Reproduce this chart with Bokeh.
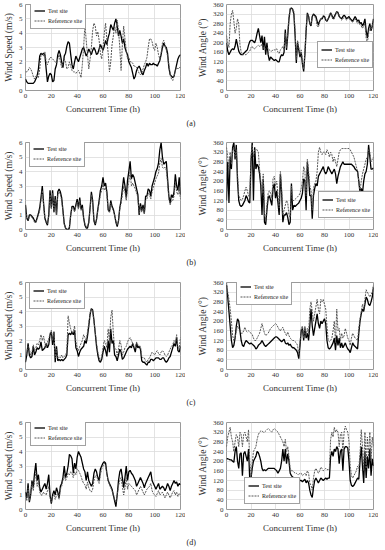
from bokeh.plotting import figure
from bokeh.layouts import gridplot
from bokeh.models import Range1d, FixedTicker, Legend, LegendItem, Title
from bokeh.embed import file_html
from bokeh.resources import INLINE

hours = list(range(121))
speed_ticks = [0, 1, 2, 3, 4, 5, 6]
angle_ticks = [0, 40, 80, 120, 160, 200, 240, 280, 320, 360]
time_ticks = [0, 20, 40, 60, 80, 100, 120]
captions = ["(a)", "(b)", "(c)", "(d)"]
series_names = ["Test site", "Reference site"]

# ---- (a) ----
a_speed_test = [0.8, 0.6, 0.5, 0.5, 0.5, 0.5, 0.5, 0.6, 0.8, 1.0,
                1.5, 2.4, 2.6, 2.5, 2.6, 2.5, 1.5, 0.6, 1.0, 1.2,
                1.1, 0.6, 0.7, 1.5, 1.8, 2.5, 2.8, 2.5, 2.0, 1.6,
                2.4, 2.6, 3.1, 3.4, 3.3, 2.5, 1.8, 1.5, 2.0, 2.4,
                2.2, 2.0, 2.3, 2.6, 2.9, 3.0, 2.7, 2.4, 2.6, 2.9,
                2.7, 2.5, 2.8, 3.0, 2.8, 2.5, 2.6, 2.9, 3.2, 3.0,
                2.8, 3.1, 3.5, 3.2, 3.7, 4.0, 4.6, 4.4, 4.2, 4.7,
                5.0, 4.5, 3.8, 4.2, 3.8, 3.3, 3.6, 3.0, 2.7, 2.5,
                2.0, 1.8, 1.6, 1.2, 0.8, 1.0, 1.4, 1.6, 1.7, 1.5,
                1.2, 1.1, 1.4, 1.6, 1.9, 1.7, 1.9, 1.8, 1.8, 1.9,
                1.8, 1.8, 1.7, 1.9, 2.1, 2.5, 3.0, 3.3, 3.1, 3.0,
                2.6, 1.6, 1.1, 1.0, 0.9, 1.0, 1.4, 1.8, 2.2, 2.4,
                2.5]
a_speed_ref = [1.3, 1.3, 1.4, 1.6, 1.5, 1.3, 1.0, 0.8, 1.0, 1.1,
               0.9, 1.5, 2.5, 2.6, 2.4, 2.7, 2.0, 1.8, 2.1, 2.3,
               2.3, 2.2, 2.1, 2.0, 1.9, 2.2, 2.5, 2.0, 1.6, 1.9,
               2.2, 2.0, 1.5, 1.6, 2.0, 1.7, 1.4, 1.3, 1.3, 1.2,
               1.3, 1.4, 1.2, 0.9, 1.8, 3.0, 4.6, 3.5, 2.5, 1.5,
               2.2, 3.0, 4.2, 4.7, 4.5, 3.8, 4.1, 3.5, 2.6, 2.2,
               3.0, 4.0, 4.7, 3.5, 2.6, 1.3, 2.0, 3.2, 3.8, 4.5,
               4.0, 4.9, 4.2, 3.0, 1.4, 3.2, 4.5, 3.6, 2.8, 2.2,
               2.3, 2.0, 2.0, 1.9, 1.7, 1.7, 1.6, 1.4, 1.2, 1.1,
               1.2, 1.5, 1.8, 2.0, 2.3, 3.0, 3.6, 3.6, 3.4, 3.0,
               2.8, 3.3, 3.0, 2.5, 2.2, 2.6, 3.3, 3.5, 3.2, 2.8,
               2.4, 1.8, 1.2, 0.8, 0.7, 1.0, 1.4, 1.6, 1.5, 1.6,
               1.6]
a_angle_test = [200, 165, 150, 160, 170, 175, 170, 185, 215, 190,
                165, 155, 150, 150, 155, 160, 165, 170, 190, 205,
                210, 210, 205, 200, 215, 240, 260, 230, 200, 230,
                170, 225, 150, 200, 150, 125, 140, 135, 130, 125,
                130, 125, 120, 120, 140, 150, 145, 160, 255, 170,
                230, 300, 340, 345, 340, 320, 230, 115, 200, 170,
                140, 160, 110, 80, 150, 250, 325, 310, 280, 270,
                310, 320, 315, 310, 290, 275, 290, 300, 300, 310,
                310, 295, 290, 300, 310, 325, 315, 300, 310, 320,
                330, 325, 310, 305, 300, 310, 315, 310, 300, 305,
                310, 300, 295, 290, 300, 310, 300, 290, 295, 280,
                285, 270, 280, 300, 250, 220, 260, 280, 250, 270,
                300]
a_angle_ref = [230, 200, 180, 280, 320, 335, 290, 240, 260, 300,
               280, 190, 160, 150, 150, 150, 150, 155, 160, 165,
               180, 185, 175, 175, 180, 185, 190, 185, 185, 195,
               185, 170, 175, 180, 175, 170, 165, 165, 170, 170,
               170, 175, 160, 155, 170, 175, 185, 170, 240, 180,
               240, 310, 345, 345, 340, 330, 250, 130, 210, 180,
               150, 170, 120, 90, 160, 260, 320, 315, 280, 275,
               310, 315, 310, 300, 270, 265, 285, 300, 305, 315,
               310, 300, 290, 300, 320, 325, 310, 300, 300, 315,
               330, 330, 315, 300, 295, 300, 305, 300, 295, 300,
               305, 295, 290, 285, 295, 300, 290, 280, 285, 275,
               270, 260, 270, 280, 220, 200, 240, 270, 250, 270,
               300]

# ---- (b) ----
b_speed_test = [1.7, 0.8, 0.6, 1.0, 1.0, 0.9, 0.8, 0.6, 0.5, 0.8,
                1.1, 1.5, 2.2, 3.0, 1.8, 0.8, 0.5, 0.3, 1.0, 2.7,
                1.5, 2.7, 1.2, 2.3, 1.0, 2.6, 2.8, 2.6, 2.2, 1.3,
                0.4, 0.1, 0.0, 0.0, 0.1, 1.0, 1.6, 1.6, 1.3, 1.7,
                2.1, 1.5, 2.2, 1.4, 1.7, 0.8, 0.3, 0.1, 0.1, 0.5,
                1.5, 2.6, 2.0, 0.6, 0.3, 0.7, 1.4, 2.0, 2.7, 3.0,
                3.6, 3.0, 3.2, 2.6, 1.4, 1.2, 2.0, 1.6, 1.4, 1.0,
                0.5, 0.2, 0.6, 1.5, 2.0, 2.8, 3.6, 3.0, 2.2, 3.4,
                4.0, 4.7, 3.5, 3.8, 3.6, 3.2, 2.8, 2.4, 1.0, 1.8,
                1.3, 1.7, 1.1, 2.3, 2.3, 2.8, 2.7, 2.3, 3.0, 3.3,
                3.6, 4.0, 4.2, 4.6, 5.5, 6.0, 5.0, 4.5, 4.6, 4.7,
                3.5, 2.3, 1.8, 2.4, 2.2, 2.6, 3.8, 3.0, 2.7, 3.6,
                2.4]
b_speed_ref = [1.5, 0.7, 0.6, 0.9, 1.0, 0.8, 0.7, 0.5, 0.5, 0.7,
               1.0, 1.3, 2.0, 2.7, 1.7, 0.7, 0.5, 0.4, 0.9, 2.4,
               1.4, 2.5, 1.2, 2.1, 1.0, 2.4, 2.6, 2.4, 2.0, 1.2,
               0.4, 0.1, 0.0, 0.0, 0.2, 1.0, 1.5, 1.5, 1.2, 1.6,
               1.9, 1.4, 2.0, 1.3, 1.5, 0.8, 0.4, 0.2, 0.2, 0.5,
               1.4, 2.4, 1.8, 0.6, 0.4, 0.7, 1.3, 1.8, 2.4, 2.7,
               3.1, 2.7, 2.9, 2.4, 1.3, 1.2, 1.8, 1.5, 1.3, 1.0,
               0.6, 0.3, 0.6, 1.4, 1.8, 2.4, 3.0, 2.6, 2.0, 2.8,
               3.3, 4.0, 3.0, 3.2, 3.0, 2.8, 2.5, 2.2, 1.1, 1.6,
               1.2, 1.5, 1.1, 2.0, 2.1, 2.5, 2.4, 2.1, 2.6, 2.9,
               3.2, 3.5, 3.7, 3.9, 4.6, 4.9, 4.3, 4.2, 4.3, 4.1,
               3.2, 2.1, 1.7, 2.0, 2.0, 2.3, 3.3, 2.6, 2.4, 2.9,
               2.1]
b_angle_test = [120, 280, 110, 300, 250, 340, 360, 290, 350, 200,
                120, 100, 95, 100, 110, 120, 140, 130, 115, 110,
                280, 360, 120, 340, 250, 270, 260, 230, 180, 60,
                210, 30, 20, 80, 130, 140, 120, 100, 170, 190,
                130, 160, 110, 60, 230, 150, 30, 60, 60, 70,
                50, 20, 30, 190, 80, 100, 95, 100, 105, 110,
                120, 130, 150, 210, 200, 80, 280, 220, 140, 140,
                45, 140, 170, 190, 180, 220, 230, 240, 250, 260,
                240, 230, 240, 260, 250, 240, 230, 240, 250, 230,
                190, 220, 240, 260, 270, 280, 270, 270, 270, 270,
                270, 270, 270, 265, 260, 250, 245, 240, 200, 150,
                170, 150, 200, 230, 240, 270, 350, 300, 250, 250,
                255]
b_angle_ref = [340, 300, 250, 320, 270, 330, 340, 300, 330, 230,
               140, 130, 120, 125, 140, 160, 175, 160, 140, 130,
               300, 350, 300, 330, 330, 330, 320, 250, 200, 150,
               230, 60, 40, 100, 150, 160, 150, 130, 210, 220,
               180, 200, 140, 90, 240, 170, 60, 80, 100, 120,
               110, 60, 50, 180, 120, 120, 125, 130, 135, 140,
               150, 170, 200, 260, 240, 140, 290, 240, 180, 160,
               80, 170, 190, 200, 240, 320, 340, 320, 310, 320,
               320, 310, 330, 320, 300, 320, 310, 280, 300, 280,
               260, 290, 320, 330, 335, 335, 335, 335, 335, 335,
               335, 330, 320, 310, 300, 280, 260, 240, 200, 160,
               200, 230, 250, 270, 290, 300, 330, 320, 280, 290,
               300]

# ---- (c) ----
c_speed_test = [0.5, 1.0, 1.8, 1.0, 0.8, 0.9, 1.6, 1.0, 1.2, 1.5,
                1.4, 1.5, 1.9, 1.3, 1.4, 1.5, 1.8, 1.5, 1.7, 2.4,
                2.6, 1.7, 2.6, 0.5, 1.6, 0.6, 0.7, 0.6, 0.7, 0.6,
                0.7, 0.8, 1.0, 2.4, 2.5, 2.4, 2.6, 2.4, 2.7, 1.5,
                1.3, 0.9, 1.2, 1.4, 1.5, 1.6, 2.0, 1.8, 2.3, 3.0,
                3.8, 4.2, 4.1, 3.4, 2.5, 1.6, 1.0, 0.6, 0.5, 0.7,
                1.2, 1.6, 1.3, 0.9, 2.0, 1.2, 2.8, 1.8, 2.0, 1.0,
                0.9, 0.6, 1.0, 1.4, 1.2, 0.7, 0.8, 1.0, 1.2, 1.4,
                1.5, 1.6, 1.5, 1.8, 1.5, 1.2, 1.8, 1.5, 1.6, 1.4,
                0.6, 0.5, 0.5, 0.4, 0.3, 0.5, 0.5, 0.7, 0.7, 0.6,
                0.7, 0.8, 0.8, 0.8, 0.7, 0.7, 0.8, 0.8, 0.6, 0.5,
                0.6, 0.8, 0.9, 1.2, 1.5, 1.8, 1.6, 2.2, 1.3, 1.2,
                1.6]
c_speed_ref = [0.9, 1.2, 1.6, 1.4, 1.0, 1.2, 1.7, 1.3, 1.5, 1.8,
               1.7, 2.0, 2.4, 2.0, 2.3, 1.8, 1.5, 1.9, 2.1, 2.5,
               2.7, 2.0, 2.6, 0.8, 1.4, 0.8, 0.9, 0.8, 1.0, 0.8,
               0.9, 1.0, 1.2, 3.7, 3.2, 2.8, 2.5, 2.6, 3.0, 1.9,
               1.5, 1.3, 1.6, 1.8, 2.0, 2.4, 2.2, 2.0, 2.6, 3.2,
               3.9, 4.2, 4.0, 3.3, 2.6, 1.8, 1.2, 0.8, 0.6, 0.9,
               1.5, 2.0, 1.8, 1.5, 2.8, 2.0, 3.6, 4.1, 2.5, 1.5,
               1.4, 1.0, 1.4, 2.0, 1.7, 1.0, 1.2, 1.5, 1.6, 1.9,
               2.1, 2.2, 2.0, 1.8, 1.6, 1.5, 1.9, 1.7, 1.6, 1.6,
               0.9, 0.8, 0.8, 0.6, 0.5, 0.7, 0.8, 1.0, 1.2, 1.1,
               1.0, 1.2, 1.3, 1.1, 1.0, 1.2, 1.3, 1.2, 1.0, 0.9,
               1.0, 1.2, 1.4, 1.6, 1.7, 2.0, 1.8, 2.4, 1.6, 1.4,
               2.2]
c_angle_test = [350, 300, 240, 180, 120, 90, 100, 130, 180, 210,
                200, 160, 120, 100, 95, 110, 120, 115, 110, 105,
                110, 105, 100, 95, 85, 90, 100, 105, 110, 120,
                110, 100, 95, 100, 105, 110, 115, 120, 125, 130,
                135, 135, 130, 125, 120, 115, 120, 125, 110, 105,
                110, 100, 105, 95, 90, 90, 85, 80, 70, 45,
                100, 160, 170, 120, 170, 130, 150, 120, 180, 250,
                180, 140, 170, 200, 230, 190, 170, 200, 190, 200,
                210, 190, 120, 90, 85, 90, 100, 110, 130, 80,
                140, 100, 130, 90, 110, 90, 100, 110, 95, 85,
                80, 70, 90, 110, 100, 95, 90, 85, 150, 200,
                230, 250, 240, 270, 300, 290, 270, 265, 280, 300,
                340]
c_angle_ref = [360, 320, 290, 250, 200, 140, 120, 130, 160, 180,
               170, 160, 150, 150, 160, 175, 160, 155, 160, 155,
               150, 145, 130, 120, 120, 130, 140, 150, 170, 190,
               170, 150, 140, 145, 150, 160, 170, 175, 180, 185,
               190, 185, 175, 165, 160, 170, 175, 160, 150, 140,
               155, 140, 130, 125, 120, 120, 115, 110, 100, 60,
               110, 170, 180, 130, 180, 140, 170, 150, 250, 280,
               240, 200, 230, 260, 290, 250, 230, 290, 280, 290,
               270, 250, 180, 120, 115, 120, 130, 160, 200, 110,
               250, 160, 170, 120, 150, 130, 140, 170, 150, 130,
               120, 100, 130, 150, 140, 130, 125, 120, 170, 210,
               240, 270, 250, 290, 330, 320, 310, 300, 310, 320,
               350]

# ---- (d) ----
d_speed_test = [1.2, 0.8, 1.8, 0.5, 1.0, 2.0, 1.5, 2.5, 3.2, 2.0,
                2.4, 1.5, 1.2, 1.4, 1.6, 1.8, 1.4, 1.8, 2.4, 1.0,
                0.4, 1.0, 1.3, 1.0, 1.5, 1.2, 0.8, 1.6, 1.8, 2.2,
                3.0, 2.2, 2.5, 3.0, 3.8, 3.7, 3.5, 2.5, 3.2, 2.8,
                3.6, 4.0, 3.8, 3.6, 3.2, 2.8, 2.6, 2.0, 2.6, 2.0,
                1.8, 1.6, 1.8, 2.5, 2.8, 2.6, 2.2, 2.0, 2.8, 3.0,
                3.2, 3.3, 3.2, 2.5, 2.0, 1.8, 1.6, 1.4, 1.0, 0.6,
                0.2, 1.0, 2.0, 2.6, 2.8, 2.2, 1.5, 2.2, 3.0, 2.0,
                2.6, 2.7, 2.5, 2.4, 2.2, 2.0, 1.6, 1.8, 2.0, 2.2,
                2.0, 1.8, 1.5, 1.8, 2.0, 2.2, 2.4, 2.6, 2.0, 1.8,
                1.6, 1.4, 1.6, 1.8, 1.4, 1.5, 1.6, 1.5, 1.3, 1.5,
                1.8, 1.6, 1.3, 1.6, 1.8, 2.0, 1.8, 1.9, 1.6, 1.8,
                1.7]
d_speed_ref = [1.0, 0.6, 1.5, 0.6, 1.2, 1.8, 1.3, 2.0, 2.6, 1.6,
               2.0, 1.2, 1.0, 1.0, 1.2, 1.1, 1.0, 1.3, 1.6, 0.8,
               0.5, 0.9, 1.0, 0.7, 1.0, 1.1, 0.7, 1.4, 1.6, 2.0,
               2.4, 2.0, 2.2, 2.5, 2.4, 2.6, 2.5, 2.2, 2.6, 2.4,
               2.8, 2.7, 2.5, 2.3, 2.0, 1.8, 1.7, 1.4, 1.9, 1.5,
               1.3, 1.2, 1.4, 2.0, 2.3, 2.4, 2.0, 1.8, 2.4, 2.8,
               3.0, 3.2, 3.0, 2.4, 2.0, 1.7, 1.5, 1.3, 1.0, 0.7,
               0.5, 1.0, 1.6, 2.0, 2.2, 1.6, 1.0, 1.5, 2.2, 1.4,
               1.8, 1.7, 1.6, 1.5, 1.4, 1.3, 1.0, 1.2, 1.4, 1.6,
               1.4, 1.2, 1.0, 1.2, 1.4, 1.5, 1.6, 1.8, 1.3, 1.1,
               1.0, 0.9, 1.1, 1.3, 1.0, 1.1, 1.2, 1.0, 0.8, 1.0,
               1.2, 1.0, 0.8, 1.0, 1.2, 1.3, 1.0, 1.2, 0.9, 1.1,
               1.0]
d_angle_test = [210, 210, 208, 205, 205, 200, 195, 240, 260, 200,
                170, 230, 235, 140, 230, 240, 220, 200, 250, 120,
                130, 170, 200, 210, 220, 240, 235, 220, 200, 170,
                160, 165, 160, 165, 170, 170, 170, 170, 170, 170,
                165, 160, 150, 160, 170, 200, 250, 200, 250, 190,
                230, 200, 150, 140, 135, 130, 130, 125, 125, 120,
                120, 120, 115, 120, 125, 110, 120, 110, 80, 60,
                50, 90, 120, 130, 120, 110, 120, 130, 125, 120,
                125, 130, 125, 130, 130, 220, 240, 220, 250, 240,
                260, 250, 190, 240, 250, 160, 250, 260, 260, 255,
                200, 120, 100, 95, 100, 110, 120, 130, 125, 200,
                260, 180, 110, 240, 130, 220, 170, 250, 140, 210,
                180]
d_angle_ref = [260, 300, 320, 340, 300, 280, 240, 280, 310, 300,
               260, 320, 310, 260, 310, 320, 300, 280, 330, 200,
               140, 190, 240, 250, 260, 290, 310, 320, 325, 325,
               320, 320, 325, 330, 335, 330, 325, 320, 330, 335,
               330, 325, 320, 310, 300, 290, 280, 260, 290, 240,
               260, 220, 170, 160, 160, 155, 150, 150, 145, 145,
               150, 150, 140, 145, 150, 140, 160, 150, 110, 100,
               80, 130, 160, 170, 160, 150, 160, 175, 170, 160,
               165, 170, 165, 165, 170, 290, 320, 300, 340, 320,
               330, 320, 260, 310, 320, 240, 320, 345, 330, 320,
               280, 180, 140, 130, 140, 150, 160, 180, 170, 230,
               330, 260, 160, 320, 170, 300, 220, 320, 200, 300,
               260]

FONT = "Liberation Serif"


def panel(test, ref, angle, leg_xy, row_layout, caption=None):
    height, bt, bb = row_layout
    if angle:
        width, bl, br = 193, 41, 5
        yr, yt, ylab = Range1d(0, 360), angle_ticks, "Wind Angle (°)"
    else:
        width, bl, br = 185, 25, 5
        yr, yt, ylab = Range1d(0, 6), speed_ticks, "Wind Speed (m/s)"
    p = figure(width=width, height=height, x_range=Range1d(0, 120), y_range=yr,
               output_backend="svg", toolbar_location=None,
               min_border_left=bl, min_border_right=br,
               min_border_top=bt, min_border_bottom=bb)
    p.background_fill_color = "white"
    p.border_fill_color = "white"
    p.outline_line_color = "#9a9a9a"
    p.outline_line_width = 1
    p.xaxis.ticker = FixedTicker(ticks=time_ticks)
    p.yaxis.ticker = FixedTicker(ticks=yt)
    for g in (p.xgrid, p.ygrid):
        g.grid_line_color = "#dcdcdc"
        g.grid_line_width = 0.8
    for ax in (p.xaxis, p.yaxis):
        ax.axis_line_color = None
        ax.major_tick_line_color = None
        ax.minor_tick_line_color = None
        ax.major_tick_out = 0
        ax.major_tick_in = 0
        ax.major_label_standoff = 3
        ax.axis_label_standoff = 3
        ax.major_label_text_font = FONT
        ax.major_label_text_font_size = "7px"
        ax.major_label_text_color = "#333333"
        ax.axis_label_text_font = FONT
        ax.axis_label_text_font_style = "normal"
        ax.axis_label_text_color = "#333333"
    p.xaxis.axis_label = "Concurrent Time (h)"
    p.xaxis.axis_label_text_font_size = "9px"
    p.yaxis.axis_label = ylab
    p.yaxis.axis_label_text_font_size = "9.5px"
    p.yaxis.axis_label_standoff = 2

    r1 = p.line(hours, test, line_color="black", line_width=1.3)
    r2 = p.line(hours, ref, line_color="#555555", line_width=1.0, line_dash="2 1")
    leg = Legend(items=[LegendItem(label=series_names[0], renderers=[r1]),
                        LegendItem(label=series_names[1], renderers=[r2])],
                 location=leg_xy)
    leg.label_text_font = FONT
    leg.label_text_font_size = "6px"
    leg.label_text_color = "#222222"
    leg.label_height = 9
    leg.label_standoff = 3
    leg.glyph_width = 11
    leg.glyph_height = 9
    leg.spacing = 1
    leg.padding = 3
    leg.margin = 0
    leg.border_line_color = "#444444"
    leg.border_line_width = 0.8
    leg.background_fill_color = "white"
    leg.background_fill_alpha = 1
    p.add_layout(leg)

    if caption is not None:
        p.add_layout(Title(text=caption, align="left", offset=-40, standoff=1,
                           text_font=FONT, text_font_size="8px",
                           text_font_style="normal", text_color="#222222"), "below")
    return p


# (height, top border, bottom border) per row
row_a = (128, 4, 37)
row_b = (139, 14, 38)
row_c = (140, 15, 38)
row_d = (140, 15, 38)

rows = [
    [panel(a_speed_test, a_speed_ref, False, (5, 61), row_a),
     panel(a_angle_test, a_angle_ref, True, (91, 22), row_a, captions[0])],
    [panel(b_speed_test, b_speed_ref, False, (4, 62), row_b),
     panel(b_angle_test, b_angle_ref, True, (92, 11), row_b, captions[1])],
    [panel(c_speed_test, c_speed_ref, False, (4, 60), row_c),
     panel(c_angle_test, c_angle_ref, True, (10, 64), row_c, captions[2])],
    [panel(d_speed_test, d_speed_ref, False, (5, 63), row_d),
     panel(d_angle_test, d_angle_ref, True, (18, 5), row_d, captions[3])],
]

grid = gridplot(rows, toolbar_location=None)
open("out.html", "w").write(file_html(grid, INLINE))
